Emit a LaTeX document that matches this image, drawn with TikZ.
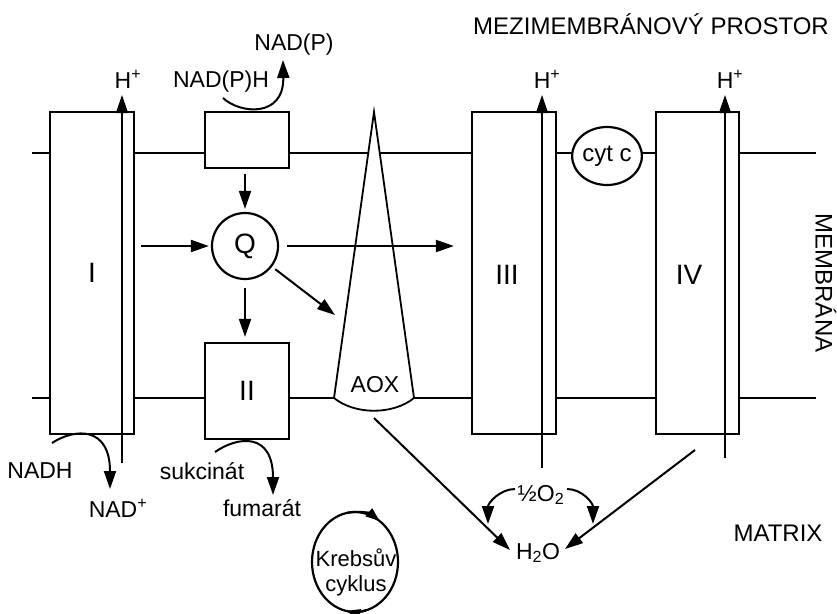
\documentclass[tikz,border=0pt]{standalone}
\usepackage{fontspec}
\setmainfont{Liberation Sans}
\usetikzlibrary{arrows.meta,shapes.geometric,calc}
\begin{document}
\begin{tikzpicture}[x=1pt,y=-1pt,
  ln/.style={line width=2.2pt},
  box/.style={draw,fill=white,line width=2.2pt,inner sep=0pt},
  arr/.style={line width=2pt,-{Triangle[length=18pt,width=12pt]}},
  strip/.style={line width=1.4pt,-{Triangle[length=18pt,width=12pt]}},
  t/.style={font=\fontsize{23}{25}\selectfont,inner sep=1pt},
  big/.style={font=\fontsize{24}{28}\selectfont,inner sep=0pt},
  num/.style={font=\fontsize{28}{32}\selectfont,inner sep=0pt}]
\useasboundingbox (0,0) rectangle (837,613);
% membranes
\coordinate (mtl) at (32,153); \coordinate (mtr) at (816,153);
\coordinate (mbl) at (32,398); \coordinate (mbr) at (816,398);
\draw[ln] (mtl) -- (mtr);
\draw[ln] (mbl) -- (mbr);
% AOX
\coordinate (at) at (374,112); \coordinate (al) at (334,398); \coordinate (ar) at (414,398);
\draw[box,line width=1.8pt] (al) -- (at) -- (ar) .. controls (393,415) and (355,415) .. (al) -- cycle;
\node[t] (AOX) at (375,385) {AOX};
% complexes
\node[box,minimum width=84pt,minimum height=322pt] (I) at (92,273) {};
\node[box,minimum width=84pt,minimum height=56pt] (NP) at (247,140) {};
\node[box,minimum width=84pt,minimum height=96pt] (II) at (247,391) {};
\node[box,minimum width=84pt,minimum height=322pt] (III) at (514,273) {};
\node[box,minimum width=83pt,minimum height=322pt] (IV) at (697.5,273) {};
\node[box,ellipse,minimum width=66pt,minimum height=58pt,font=\fontsize{24}{28}\selectfont] (cyt) at (607,156) {cyt c};
\node[num] (nI) at (92,273) {I};
\node[num] (nII) at (247,391) {II};
\node[num] (nIII) at (507,275) {III};
\node[num] (nIV) at (689,275) {IV};
\node[box,circle,minimum size=66pt,num] (Q) at (245,246) {Q};
% proton strips
\coordinate (sIb) at (122,463); \coordinate (sIt) at (122,95);
\coordinate (sIIIb) at (542,468); \coordinate (sIIIt) at (542,95);
\coordinate (sIVb) at (725,458); \coordinate (sIVt) at (725,95);
\draw[strip] (sIb) -- (sIt);
\draw[strip] (sIIIb) -- (sIIIt);
\draw[strip] (sIVb) -- (sIVt);
\node[t] (HI) at (128,79) {H\textsuperscript{+}};
\node[t] (HIII) at (547,79) {H\textsuperscript{+}};
\node[t] (HIV) at (730,79) {H\textsuperscript{+}};
% Q arrows
\draw[arr,shorten <=5pt,shorten >=3pt] (NP.south -| Q) -- (Q);
\draw[arr,shorten <=8pt,shorten >=5pt] (Q) -- (II.north -| Q);
\draw[arr,shorten <=6pt,shorten >=2pt] (I.east |- Q) -- (Q);
\draw[arr,shorten <=8pt,shorten >=17pt] (Q) -- (III.west |- Q);
\coordinate (qa) at (335,315);
\draw[arr,shorten <=4pt] (Q) -- (qa);
% labels
\node[t] (NPH) at (221,82) {NAD(P)H};
\node[t] (NPx) at (294,45) {NAD(P)};
\node[t] (NADH) at (40,471) {NADH};
\node[t] (NADp) at (118,508) {NAD\textsuperscript{+}};
\node[t] (suk) at (202,471) {sukcinát};
\node[t] (fum) at (262,508) {fumarát};
\node[big] (mez) at (651,24) {MEZIMEMBRÁNOVÝ PROSTOR};
\node[big,rotate=-90] (mem) at (826,283) {MEMBRÁNA};
\node[big] (mat) at (778,533) {MATRIX};
\node[t] (O2) at (541,495) {½O\textsubscript{2}};
\node[t] (H2O) at (538,553) {H\textsubscript{2}O};
% curved substrate arrows
\coordinate (nphs) at (223,98); \coordinate (nphe) at (283,60);
\draw[arr] (nphs) .. controls (240,114) and (284,118) .. (nphe);
\coordinate (nadhs) at (52,443); \coordinate (nadhe) at (110,489);
\draw[arr] (nadhs) .. controls (75,428) and (110,426) .. (nadhe);
\coordinate (suks) at (215,452); \coordinate (suke) at (273,495);
\draw[arr] (suks) .. controls (238,436) and (273,432) .. (suke);
\coordinate (o2ls) at (515,489); \coordinate (o2le) at (488,524);
\draw[arr] (o2ls) .. controls (500,489) and (488,503) .. (o2le);
\coordinate (o2rs) at (567,489); \coordinate (o2re) at (593,524);
\draw[arr] (o2rs) .. controls (582,489) and (593,503) .. (o2re);
% to water
\coordinate (aoxb) at (374,418); \coordinate (h2l) at (510,550);
\draw[arr] (aoxb) -- (h2l);
\coordinate (ivb) at (695,450); \coordinate (h2r) at (565,549);
\draw[arr] (ivb) -- (h2r);
% Krebs cycle
\node[draw,ellipse,line width=2.2pt,minimum width=86pt,minimum height=100pt,inner sep=0pt] (K) at (355,562) {};
\node[align=center,font=\fontsize{22}{25}\selectfont,inner sep=0pt] (Kt) at (356,572) {Krebsův\\cyklus};
\draw[line width=2.2pt,-{Triangle[length=14pt,width=10pt]}] (K.center) ++(-100:43 and 50) arc[start angle=-100,end angle=-55,x radius=43,y radius=50];
\draw[line width=2.2pt,-{Triangle[length=14pt,width=10pt]}] (K.center) ++(75:43 and 50) arc[start angle=75,end angle=102,x radius=43,y radius=50];
\end{tikzpicture}
\end{document}
